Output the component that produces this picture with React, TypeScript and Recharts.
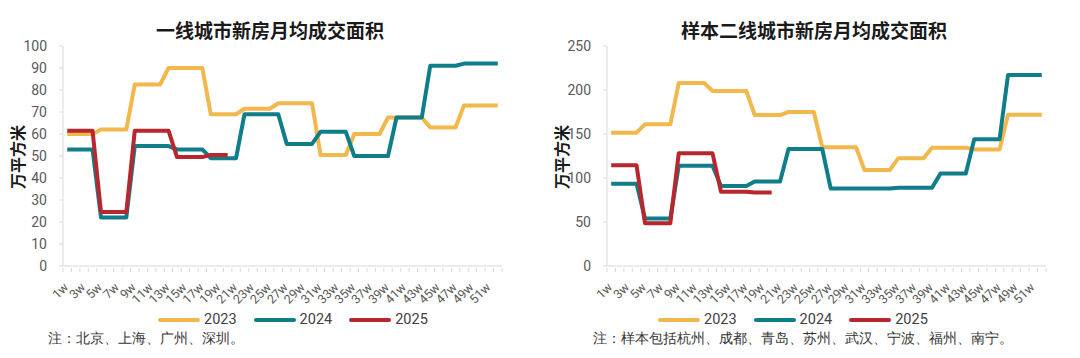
import { LineChart, Line, XAxis, YAxis } from "recharts";

const WEEKS = [
  "1w", "2w", "3w", "4w", "5w", "6w", "7w", "8w", "9w", "10w", "11w", "12w", "13w",
  "14w", "15w", "16w", "17w", "18w", "19w", "20w", "21w", "22w", "23w", "24w", "25w", "26w",
  "27w", "28w", "29w", "30w", "31w", "32w", "33w", "34w", "35w", "36w", "37w", "38w", "39w",
  "40w", "41w", "42w", "43w", "44w", "45w", "46w", "47w", "48w", "49w", "50w", "51w", "52w",
];

// 一线城市 (万平方米), weekly view of monthly averages
const T1_2023 = [
  60, 60, 60, 60, 62, 62, 62, 62, 82.5, 82.5, 82.5, 82.5, 90,
  90, 90, 90, 90, 69, 69, 69, 69, 71.5, 71.5, 71.5, 71.5, 74,
  74, 74, 74, 74, 50.5, 50.5, 50.5, 50.5, 60, 60, 60, 60, 67.5,
  67.5, 67.5, 67.5, 67.5, 63, 63, 63, 63, 73, 73, 73, 73, 73,
];
const T1_2024 = [
  53, 53, 53, 53, 22, 22, 22, 22, 54.5, 54.5, 54.5, 54.5, 54.5,
  53, 53, 53, 53, 49, 49, 49, 49, 69, 69, 69, 69, 69,
  55.5, 55.5, 55.5, 55.5, 61, 61, 61, 61, 50, 50, 50, 50, 50,
  67.5, 67.5, 67.5, 67.5, 91, 91, 91, 91, 92, 92, 92, 92, 92,
];
const T1_2025 = [
  61.5, 61.5, 61.5, 61.5, 24.5, 24.5, 24.5, 24.5, 61.5, 61.5, 61.5, 61.5, 61.5,
  49.5, 49.5, 49.5, 49.5, 50.5, 50.5, 50.5,
];

// 样本二线城市 (万平方米)
const T2_2023 = [
  151.5, 151.5, 151.5, 151.5, 161, 161, 161, 161, 208, 208, 208, 208, 199,
  199, 199, 199, 199, 171.5, 171.5, 171.5, 171.5, 175, 175, 175, 175, 135,
  135, 135, 135, 135, 109, 109, 109, 109, 122.5, 122.5, 122.5, 122.5, 134.5,
  134.5, 134.5, 134.5, 134.5, 132.5, 132.5, 132.5, 132.5, 172, 172, 172, 172, 172,
];
const T2_2024 = [
  93.5, 93.5, 93.5, 93.5, 54, 54, 54, 54, 114, 114, 114, 114, 114,
  91, 91, 91, 91, 96, 96, 96, 96, 133, 133, 133, 133, 133,
  88, 88, 88, 88, 88, 88, 88, 88, 89, 89, 89, 89, 89,
  105, 105, 105, 105, 144, 144, 144, 144, 217, 217, 217, 217, 217,
];
const T2_2025 = [
  114.5, 114.5, 114.5, 114.5, 48.5, 48.5, 48.5, 48.5, 128, 128, 128, 128, 128,
  84.5, 84.5, 84.5, 84.5, 83.5, 83.5, 83.5,
];

const T1_TICKS = [0, 10, 20, 30, 40, 50, 60, 70, 80, 90, 100];
const T2_TICKS = [0, 50, 100, 150, 200, 250];

const SERIES = [
  { key: "y2023", name: "2023", color: "#F2B84B" },
  { key: "y2024", name: "2024", color: "#107D8B" },
  { key: "y2025", name: "2025", color: "#B8262E" },
];

const FONT = "Roboto, 'Noto Sans CJK SC', sans-serif";
const AXIS = "#d9d9d9";
const TEXT = "#595959";
const PLOT_W = 439;
const BAND = PLOT_W / 52;

function build(a: number[], b: number[], c: number[]) {
  return WEEKS.map((w, i) => ({ week: w, y2023: a[i] ?? null, y2024: b[i] ?? null, y2025: c[i] ?? null }));
}

// eslint-disable-next-line @typescript-eslint/no-explicit-any
function WeekTick({ x, y, payload, index }: any) {
  const left = x - BAND / 2;
  return (
    <g>
      <line x1={left} x2={left} y1={y} y2={y + 4} stroke={AXIS} />
      {index === 51 && <line x1={x + BAND / 2} x2={x + BAND / 2} y1={y} y2={y + 4} stroke={AXIS} />}
      {index % 2 === 0 && (
        <text x={x + 2} y={y + 20} transform={`rotate(-45, ${x + 2}, ${y + 20})`} textAnchor="end"
          fontSize={12.5} fill={TEXT} fontFamily={FONT}>{payload.value}</text>
      )}
    </g>
  );
}

function Panel({ left, title, note, data, ticks, max, legendX, labelX, noteX }: {
  left: number; title: string; note: string; data: ReturnType<typeof build>; ticks: number[]; max: number;
  legendX: number; labelX: number; noteX: number;
}) {
  return (
    <div style={{ position: "absolute", left, top: 0, width: 540, height: 358 }}>
      <div style={{ position: "absolute", left: 0, width: 540, top: 18, textAlign: "center", fontSize: 19, fontWeight: 700, color: "#1a1a1a", fontFamily: "'Noto Sans CJK SC', sans-serif", lineHeight: "24px" }}>
        {title}
      </div>
      <div style={{ position: "absolute", left: 0, top: 0 }}>
        <LineChart width={540} height={358} data={data} margin={{ top: 46, right: 540 - 63 - PLOT_W, left: 0, bottom: 0 }}>
          <XAxis dataKey="week" height={92} interval={0} tickSize={0} tickLine={false} axisLine={{ stroke: AXIS }}
            padding={{ left: BAND / 2, right: BAND / 2 }} tick={<WeekTick />} />
          <YAxis width={63} domain={[0, max]} ticks={ticks} interval={0} tickSize={4} tickMargin={12}
            tickLine={{ stroke: AXIS }} axisLine={{ stroke: AXIS }}
            tick={{ fontSize: 14, fill: TEXT, fontFamily: FONT }} />
          {SERIES.map((s) => (
            <Line key={s.key} dataKey={s.key} name={s.name} type="linear" stroke={s.color} strokeWidth={4}
              dot={false} activeDot={false} strokeLinejoin="round" connectNulls={false} isAnimationActive={false} />
          ))}
        </LineChart>
      </div>
      <div style={{ position: "absolute", left: labelX - 12, top: 157 - 40, width: 24, height: 80, display: "flex", alignItems: "center", justifyContent: "center" }}>
        <div style={{ transform: "rotate(-90deg)", whiteSpace: "nowrap", fontSize: 16, fontWeight: 700, color: "#1a1a1a", fontFamily: "'Noto Sans CJK SC', sans-serif" }}>万平方米</div>
      </div>
      <div style={{ position: "absolute", left: legendX, top: 311, display: "flex", alignItems: "center", fontFamily: FONT, fontSize: 14.5, color: "#404040" }}>
        {SERIES.map((s) => (
          <div key={s.key} style={{ display: "flex", alignItems: "center", marginRight: 17 }}>
            <span style={{ display: "inline-block", width: 42, height: 4, borderRadius: 2, background: s.color, marginRight: 4 }} />
            <span>{s.name}</span>
          </div>
        ))}
      </div>
      <div style={{ position: "absolute", left: noteX, top: 330, fontSize: 14, color: "#333", fontFamily: "serif", whiteSpace: "nowrap" }}>
        {note}
      </div>
    </div>
  );
}

export default function App() {
  return (
    <div style={{ position: "absolute", left: 0, top: 0, width: 1080, height: 358, background: "#fff" }}>
      <Panel left={0} title="一线城市新房月均成交面积" note="注：北京、上海、广州、深圳。"
        data={build(T1_2023, T1_2024, T1_2025)} ticks={T1_TICKS} max={100} legendX={158} labelX={17} noteX={48} />
      <Panel left={544} title="样本二线城市新房月均成交面积" note="注：样本包括杭州、成都、青岛、苏州、武汉、宁波、福州、南宁。"
        data={build(T2_2023, T2_2024, T2_2025)} ticks={T2_TICKS} max={250} legendX={114} labelX={17} noteX={49} />
    </div>
  );
}
